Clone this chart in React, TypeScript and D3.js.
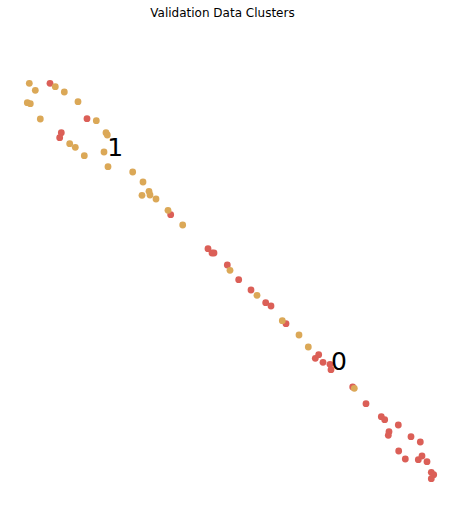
import React from "react";
import * as d3 from "d3";

const title = "Validation Data Clusters";

// points whose true class is 0 (red)
const class0X = [-18.0, -14.3, -16.87, -17.03, -5.93, -2.2, -1.8, -1.6, -0.27, 0.87, 2.1, 3.57, 4.1, 5.6, 8.53, 8.87, 9.3, 10.0, 10.1, 12.27, 13.6, 15.13, 15.47, 16.83, 15.9, 15.83, 18.1, 19.03, 16.87, 17.53, 19.2, 18.83, 19.7, 20.13, 20.37, 20.13];
const class0Y = [17.67, 14.13, 12.73, 12.23, 4.53, 1.13, 0.7, 0.7, -0.5, -1.97, -3.0, -4.27, -4.6, -6.37, -9.83, -9.47, -10.23, -10.43, -10.97, -12.7, -14.37, -15.67, -15.97, -16.5, -17.17, -17.53, -17.67, -18.2, -19.1, -19.9, -19.6, -19.97, -20.17, -21.23, -21.47, -21.87];

// points whose true class is 1 (orange)
const class1X = [-20.07, -17.47, -19.47, -16.57, -20.27, -19.97, -15.2, -18.97, -13.37, -12.4, -12.27, -16.03, -15.47, -12.6, -14.57, -12.2, -9.73, -8.7, -8.1, -8.8, -8.0, -7.4, -6.2, -4.73, 0.0, 2.7, 5.23, 6.9, 7.83, 12.43];
const class1Y = [17.67, 17.33, 16.97, 16.8, 15.73, 15.63, 15.83, 14.1, 13.93, 12.73, 12.5, 11.63, 11.27, 10.8, 10.43, 9.33, 8.8, 7.8, 6.87, 6.47, 6.5, 6.1, 4.97, 3.5, -1.03, -3.53, -6.07, -7.5, -8.7, -12.83];

// cluster labels and their anchor positions
const clusterNames = ["1", "0"];
const clusterX = [-12.27, 10.1];
const clusterY = [10.45, -11.0];

const W = 460;
const H = 506;

export default function App() {
  const x = d3.scaleLinear().domain([-23, 23]).range([0, W]);
  const y = d3.scaleLinear().domain([26, -24.6]).range([0, H]);

  const red = "#db5f57";
  const orange = "#dba857";

  return (
    <svg
      width={W}
      height={H}
      style={{ position: "absolute", left: 0, top: 0, display: "block", background: "#fff" }}
      fontFamily="DejaVu Sans"
    >
      <text x={222.5} y={17} textAnchor="middle" fontSize={12} fill="#000">
        {title}
      </text>
      <g>
        {class0X.map((v, i) => (
          <circle key={"r" + i} cx={x(v)} cy={y(class0Y[i])} r={3.4} fill={red} />
        ))}
        {class1X.map((v, i) => (
          <circle key={"o" + i} cx={x(v)} cy={y(class1Y[i])} r={3.4} fill={orange} />
        ))}
      </g>
      {clusterNames.map((n, i) => (
        <text key={n} x={x(clusterX[i])} y={y(clusterY[i])} fontSize={25} fill="#000">
          {n}
        </text>
      ))}
    </svg>
  );
}
